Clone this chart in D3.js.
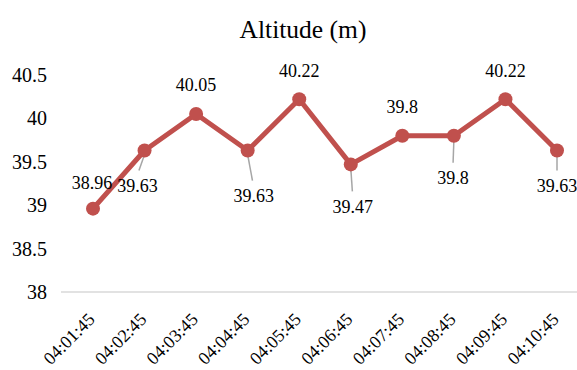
<!DOCTYPE html>
<html>
<head>
<meta charset="utf-8">
<script src="https://cdn.jsdelivr.net/npm/d3@7"></script>
<style>
  html, body { margin: 0; padding: 0; background: #fff; }
  svg { display: block; }
</style>
</head>
<body>
<svg id="chart" width="577" height="370"></svg>
<script>
// Sample times and altitude readings
const times = ["04:01:45","04:02:45","04:03:45","04:04:45","04:05:45","04:06:45","04:07:45","04:08:45","04:09:45","04:10:45"];
const altitude = [38.96, 39.63, 40.05, 39.63, 40.22, 39.47, 39.8, 39.8, 40.22, 39.63];
const yTicks = [38, 38.5, 39, 39.5, 40, 40.5];

// Data-label placement relative to its marker; `leader` draws a connector line
const labelLayout = [
  { dx: -1, dy: -26 },
  { dx: -7, dy: 35, leader: true },
  { dx: 0, dy: -29 },
  { dx: 6, dy: 45, leader: true },
  { dx: 0, dy: -29 },
  { dx: 2, dy: 42, leader: true },
  { dx: 0, dy: -29 },
  { dx: -1, dy: 42, leader: true },
  { dx: 0, dy: -29 },
  { dx: 0, dy: 35, leader: true }
];

const svg = d3.select("#chart");
const red = "#C0504D";
const serif = '"Liberation Serif"';

const x = d3.scalePoint().domain(times).range([93, 557]);
const y = d3.scaleLinear().domain([38, 40.5]).range([292, 75]);

// Title
svg.append("text")
  .attr("x", 303).attr("y", 38)
  .attr("text-anchor", "middle")
  .style("font-family", serif)
  .style("font-size", "25.5px")
  .attr("fill", "#000")
  .text("Altitude (m)");

// Y axis labels (no axis line)
const yAxis = d3.axisLeft(y).tickValues(yTicks).tickSize(0).tickPadding(0)
  .tickFormat(d3.format("~g"));
const gy = svg.append("g").attr("transform", "translate(47,0)").call(yAxis)
  .attr("font-family", null);
gy.select(".domain").remove();
gy.selectAll("text")
  .style("font-family", serif)
  .style("font-size", "20px")
  .attr("fill", "#000");

// Category baseline
svg.append("line")
  .attr("x1", 61).attr("x2", 577)
  .attr("y1", y(38)).attr("y2", y(38))
  .attr("stroke", "#d9d9d9").attr("stroke-width", 1.5);

// X axis labels, rotated 45 degrees
const xAxis = d3.axisBottom(x).tickSize(0).tickPadding(0);
const gx = svg.append("g").attr("transform", `translate(0,${y(38)})`).call(xAxis)
  .attr("font-family", null);
gx.select(".domain").remove();
gx.selectAll("text")
  .style("font-family", serif)
  .style("font-size", "18px")
  .attr("fill", "#000")
  .attr("text-anchor", "end")
  .attr("y", 0)
  .attr("dy", "0.35em")
  .attr("transform", "translate(-2,24) rotate(-45)");

// Line
const line = d3.line().x((d, i) => x(times[i])).y(d => y(d));
svg.append("path")
  .datum(altitude)
  .attr("d", line)
  .attr("fill", "none")
  .attr("stroke", red)
  .attr("stroke-width", 5)
  .attr("stroke-linejoin", "round");

// Leader lines
svg.append("g").selectAll("line")
  .data(altitude.map((v, i) => ({ v, i, l: labelLayout[i] })).filter(d => d.l.leader))
  .join("line")
  .attr("x1", d => x(times[d.i]))
  .attr("y1", d => y(d.v) + 4)
  .attr("x2", d => x(times[d.i]) + d.l.dx * 0.8)
  .attr("y2", d => y(d.v) + d.l.dy - 15)
  .attr("stroke", "#a6a6a6")
  .attr("stroke-width", 1.5);

// Markers
svg.append("g").selectAll("circle")
  .data(altitude)
  .join("circle")
  .attr("cx", (d, i) => x(times[i]))
  .attr("cy", d => y(d))
  .attr("r", 7)
  .attr("fill", red);

// Data labels
svg.append("g").selectAll("text")
  .data(altitude)
  .join("text")
  .attr("x", (d, i) => x(times[i]) + labelLayout[i].dx)
  .attr("y", (d, i) => y(d) + labelLayout[i].dy)
  .attr("text-anchor", "middle")
  .attr("dy", "0.35em")
  .style("font-family", serif)
  .style("font-size", "18px")
  .attr("fill", "#000")
  .text(d => d);
</script>
</body>
</html>
